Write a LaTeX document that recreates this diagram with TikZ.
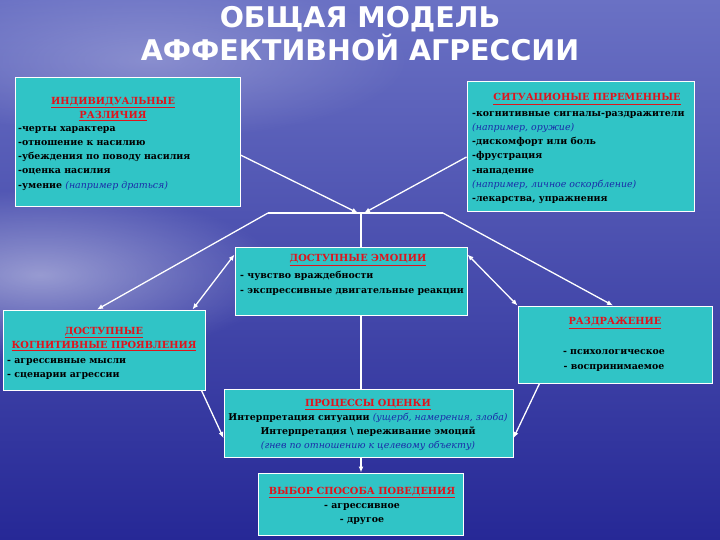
\documentclass[tikz,border=0pt]{standalone}
\usepackage{fontspec}
\setmainfont{DejaVu Serif}
\newfontfamily\titlefont{DejaVu Sans}
\usetikzlibrary{calc}
\usetikzlibrary{arrows.meta}
\usetikzlibrary{fadings}

\definecolor{boxfill}{HTML}{30C4C6}
\definecolor{headred}{HTML}{E0141C}
\definecolor{exblue}{HTML}{1A2CA8}
\definecolor{bgtop}{HTML}{6A71C4}
\definecolor{bgmid}{HTML}{4850B8}
\definecolor{bgbot}{HTML}{262896}

\tikzfading[name=glow, inner color=transparent!0, outer color=transparent!100]

\newcommand{\hd}[1]{\textcolor{headred}{\underline{#1}}}
\newcommand{\ex}[1]{\textcolor{exblue}{\mdseries\itshape #1}}

\begin{document}
\begin{tikzpicture}[x=1pt, y=-1pt,
  box/.style={draw=white, line width=1pt, fill=boxfill, inner sep=0pt},
  txt/.style={font=\bfseries\fontsize{9.4}{14.2}\selectfont, inner sep=0pt, align=left},
  head/.style={txt, font=\bfseries\fontsize{9.8}{14}\selectfont, align=center},
  arr/.style={draw=white, line width=1.3pt, -{Latex[length=6pt,width=5pt]}},
  dbl/.style={arr, {Latex[length=6pt,width=5pt]}-{Latex[length=6pt,width=5pt]}},
  link/.style={draw=white, line width=1.3pt}]
  \useasboundingbox (0,0) rectangle (720,540);
  \shade[top color=bgtop, middle color=bgmid, bottom color=bgbot] (0,0) rectangle (720,540);
  \fill[white!75!bgtop, path fading=glow, opacity=0.55] (40,275) ellipse [x radius=240, y radius=85];
  \fill[white!70!bgtop, path fading=glow, opacity=0.35] (150,60) ellipse [x radius=260, y radius=80];

  \node[font=\titlefont\bfseries\fontsize{28.5}{33}\selectfont, text=white, align=center] (title) at (360,34) {ОБЩАЯ МОДЕЛЬ\\АФФЕКТИВНОЙ АГРЕССИИ};

  \coordinate (jn) at (361,213);
  \coordinate (bl) at (268,213);
  \coordinate (br) at (443,213);

  \node[box, minimum width=225pt, minimum height=129pt] (ind) at (127.5,142.5) {};
  \node[box, minimum width=227pt, minimum height=130pt] (sit) at (580.5,147) {};
  \node[box, minimum width=232pt, minimum height=68pt] (emo) at (351,281) {};
  \node[box, minimum width=202pt, minimum height=80pt] (cog) at (104,350) {};
  \node[box, minimum width=194pt, minimum height=77pt] (irr) at (615,344.5) {};
  \node[box, minimum width=289pt, minimum height=68pt] (proc) at (368.5,423) {};
  \node[box, minimum width=205pt, minimum height=62pt] (choice) at (360.5,504) {};

  \node[head] (indhead) at (113,109) {\hd{ИНДИВИДУАЛЬНЫЕ}\\\hd{РАЗЛИЧИЯ}};
  \node[txt, anchor=north west] (indlist) at (18,126) {-черты характера\\-отношение к насилию\\-убеждения по поводу насилия\\-оценка насилия\\-умение \ex{(например драться)}};

  \node[head] (sithead) at (587,99) {\hd{СИТУАЦИОНЫЕ ПЕРЕМЕННЫЕ}};
  \node[txt, anchor=north west] (sitlist) at (472,111) {-когнитивные сигналы-раздражители\\\ex{(например, оружие)}\\-дискомфорт или боль\\-фрустрация\\-нападение\\\ex{(например, личное оскорбление)}\\-лекарства, упражнения};

  \node[head] (emohead) at (358,260) {\hd{ДОСТУПНЫЕ ЭМОЦИИ}};
  \node[txt, anchor=north west, font=\bfseries\fontsize{9.4}{15}\selectfont] (emolist) at (240,271) {- чувство враждебности\\- экспрессивные двигательные реакции};

  \node[head] (coghead) at (104,339) {\hd{ДОСТУПНЫЕ}\\\hd{КОГНИТИВНЫЕ ПРОЯВЛЕНИЯ}};
  \node[txt, anchor=north west] (coglist) at (7,358) {- агрессивные мысли\\- сценарии агрессии};

  \node[head] (irrhead) at (615,323) {\hd{РАЗДРАЖЕНИЕ}};
  \node[txt, align=center, font=\bfseries\fontsize{9.4}{15}\selectfont] (irrlist) at (614,360) {- психологическое\\- воспринимаемое};

  \node[txt, align=center] (proctext) at (368,425) {\hd{\fontsize{9.8}{14}\selectfont ПРОЦЕССЫ ОЦЕНКИ}\\Интерпретация ситуации \ex{(ущерб, намерения, злоба)}\\Интерпретация \textbackslash{} переживание эмоций\\\ex{(гнев по отношению к целевому объекту)}};

  \node[txt, align=center] (choicetext) at (362,506) {\hd{\fontsize{9.8}{14}\selectfont ВЫБОР СПОСОБА ПОВЕДЕНИЯ}\\- агрессивное\\- другое};

  \draw[arr] ([yshift=-12.5pt]ind.east) -- ([xshift=-3pt]jn);
  \draw[arr] ([yshift=-10pt]sit.west) -- ([xshift=3pt]jn);
  \draw[link] (bl) -- (br);
  \draw[link] (jn) -- (jn |- emo.north);
  \draw[link] (jn |- emo.south) -- (jn |- proc.north);
  \draw[arr] (bl) -- ([xshift=-7pt]cog.north);
  \draw[arr] (br) -- ([xshift=-2pt]irr.north);
  \draw[dbl] ([xshift=-13pt]cog.north east) -- ([yshift=-8pt]emo.north west);
  \draw[dbl] ([yshift=-8pt]emo.north east) -- (irr.north west);
  \draw[arr] ([xshift=-4pt]cog.south east) -- ([yshift=-15pt]proc.west);
  \draw[arr] ([xshift=22pt]irr.south west) -- ([yshift=-15pt]proc.east);
  \draw[arr] (jn |- proc.south) -- (jn |- choice.north);
\end{tikzpicture}
\end{document}
